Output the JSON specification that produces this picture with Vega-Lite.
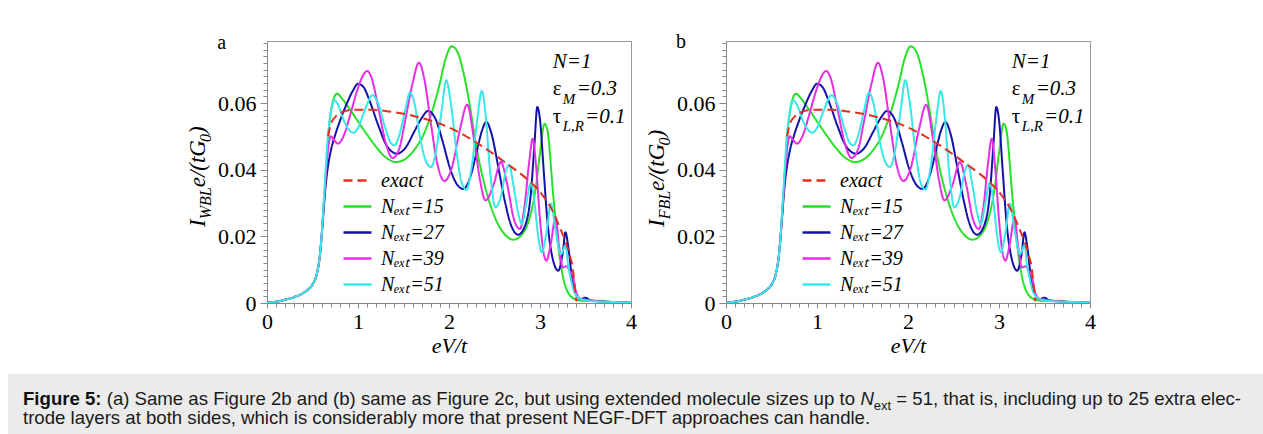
{
  "$schema": "https://vega.github.io/schema/vega-lite/v6.json",
  "padding": {"left": 8, "top": 31, "right": 0, "bottom": 0},
  "background": "white",
  "config": {
    "view": {"stroke": "#999", "strokeWidth": 1},
    "axis": {"grid": false, "domainColor": "#888", "tickColor": "#888", "labelFont": "Liberation Serif", "labelFontSize": 22, "labelColor": "black", "titleFont": "Liberation Serif", "titleFontSize": 22, "titleFontStyle": "italic", "titleFontWeight": "normal", "titleColor": "black", "labelOverlap": false, "labelFlush": false}
  },
  "datasets": {
    "curves": [
      {"s":"Nₑₓₜ=15","x":0,"y":0.0001},{"s":"Nₑₓₜ=15","x":0.1,"y":0.0004},{"s":"Nₑₓₜ=15","x":0.2,"y":0.001},{"s":"Nₑₓₜ=15","x":0.3,"y":0.0018},{"s":"Nₑₓₜ=15","x":0.4,"y":0.003},{"s":"Nₑₓₜ=15","x":0.45,"y":0.004},{"s":"Nₑₓₜ=15","x":0.5,"y":0.0055},{"s":"Nₑₓₜ=15","x":0.55,"y":0.009},{"s":"Nₑₓₜ=15","x":0.58,"y":0.014},{"s":"Nₑₓₜ=15","x":0.6,"y":0.02},{"s":"Nₑₓₜ=15","x":0.62,"y":0.028},{"s":"Nₑₓₜ=15","x":0.64,"y":0.036},
      {"s":"Nₑₓₜ=15","x":0.66,"y":0.044},{"s":"Nₑₓₜ=15","x":0.68,"y":0.052},{"s":"Nₑₓₜ=15","x":0.7,"y":0.057},{"s":"Nₑₓₜ=15","x":0.73,"y":0.061},{"s":"Nₑₓₜ=15","x":0.77,"y":0.0628},{"s":"Nₑₓₜ=15","x":0.82,"y":0.0615},{"s":"Nₑₓₜ=15","x":0.9,"y":0.0585},{"s":"Nₑₓₜ=15","x":1.0,"y":0.0545},{"s":"Nₑₓₜ=15","x":1.1,"y":0.0505},{"s":"Nₑₓₜ=15","x":1.2,"y":0.0468},{"s":"Nₑₓₜ=15","x":1.3,"y":0.0438},{"s":"Nₑₓₜ=15","x":1.42,"y":0.0423},{"s":"Nₑₓₜ=15","x":1.52,"y":0.0432},{"s":"Nₑₓₜ=15","x":1.62,"y":0.046},{"s":"Nₑₓₜ=15","x":1.72,"y":0.0505},{"s":"Nₑₓₜ=15","x":1.82,"y":0.058},{"s":"Nₑₓₜ=15","x":1.9,"y":0.066},{"s":"Nₑₓₜ=15","x":1.96,"y":0.073},{"s":"Nₑₓₜ=15","x":2.03,"y":0.077},{"s":"Nₑₓₜ=15","x":2.09,"y":0.0755},{"s":"Nₑₓₜ=15","x":2.16,"y":0.069},{"s":"Nₑₓₜ=15","x":2.23,"y":0.059},{"s":"Nₑₓₜ=15","x":2.3,"y":0.047},{"s":"Nₑₓₜ=15","x":2.4,"y":0.0345},{"s":"Nₑₓₜ=15","x":2.5,"y":0.026},{"s":"Nₑₓₜ=15","x":2.6,"y":0.021},{"s":"Nₑₓₜ=15","x":2.71,"y":0.019},{"s":"Nₑₓₜ=15","x":2.8,"y":0.0205},{"s":"Nₑₓₜ=15","x":2.88,"y":0.025},{"s":"Nₑₓₜ=15","x":2.95,"y":0.034},{"s":"Nₑₓₜ=15","x":3.0,"y":0.045},{"s":"Nₑₓₜ=15","x":3.05,"y":0.0538},{"s":"Nₑₓₜ=15","x":3.08,"y":0.052},{"s":"Nₑₓₜ=15","x":3.15,"y":0.031},{"s":"Nₑₓₜ=15","x":3.22,"y":0.013},{"s":"Nₑₓₜ=15","x":3.29,"y":0.0042},{"s":"Nₑₓₜ=15","x":3.38,"y":0.0012},{"s":"Nₑₓₜ=15","x":3.5,"y":0.0006},{"s":"Nₑₓₜ=15","x":3.65,"y":0.0007},{"s":"Nₑₓₜ=15","x":3.8,"y":0.0003},{"s":"Nₑₓₜ=15","x":4.0,"y":0.0001},

      {"s":"Nₑₓₜ=27","x":0,"y":0.0001},{"s":"Nₑₓₜ=27","x":0.1,"y":0.0004},{"s":"Nₑₓₜ=27","x":0.2,"y":0.001},{"s":"Nₑₓₜ=27","x":0.3,"y":0.0018},{"s":"Nₑₓₜ=27","x":0.4,"y":0.003},{"s":"Nₑₓₜ=27","x":0.45,"y":0.004},{"s":"Nₑₓₜ=27","x":0.5,"y":0.0055},{"s":"Nₑₓₜ=27","x":0.55,"y":0.009},{"s":"Nₑₓₜ=27","x":0.58,"y":0.014},{"s":"Nₑₓₜ=27","x":0.6,"y":0.02},{"s":"Nₑₓₜ=27","x":0.62,"y":0.027},{"s":"Nₑₓₜ=27","x":0.64,"y":0.034},
      {"s":"Nₑₓₜ=27","x":0.66,"y":0.039},{"s":"Nₑₓₜ=27","x":0.7,"y":0.0455},{"s":"Nₑₓₜ=27","x":0.75,"y":0.0505},{"s":"Nₑₓₜ=27","x":0.8,"y":0.0545},{"s":"Nₑₓₜ=27","x":0.88,"y":0.06},{"s":"Nₑₓₜ=27","x":0.95,"y":0.064},{"s":"Nₑₓₜ=27","x":1.0,"y":0.0658},{"s":"Nₑₓₜ=27","x":1.06,"y":0.0648},{"s":"Nₑₓₜ=27","x":1.13,"y":0.0605},{"s":"Nₑₓₜ=27","x":1.22,"y":0.0535},{"s":"Nₑₓₜ=27","x":1.32,"y":0.047},{"s":"Nₑₓₜ=27","x":1.43,"y":0.0448},{"s":"Nₑₓₜ=27","x":1.52,"y":0.0465},{"s":"Nₑₓₜ=27","x":1.62,"y":0.0515},{"s":"Nₑₓₜ=27","x":1.7,"y":0.0555},{"s":"Nₑₓₜ=27","x":1.77,"y":0.0576},{"s":"Nₑₓₜ=27","x":1.85,"y":0.0553},{"s":"Nₑₓₜ=27","x":1.93,"y":0.0485},{"s":"Nₑₓₜ=27","x":2.01,"y":0.0405},{"s":"Nₑₓₜ=27","x":2.09,"y":0.0355},{"s":"Nₑₓₜ=27","x":2.16,"y":0.0342},{"s":"Nₑₓₜ=27","x":2.23,"y":0.0375},{"s":"Nₑₓₜ=27","x":2.3,"y":0.0448},{"s":"Nₑₓₜ=27","x":2.36,"y":0.0515},{"s":"Nₑₓₜ=27","x":2.41,"y":0.0543},{"s":"Nₑₓₜ=27","x":2.47,"y":0.0505},{"s":"Nₑₓₜ=27","x":2.54,"y":0.041},{"s":"Nₑₓₜ=27","x":2.61,"y":0.031},{"s":"Nₑₓₜ=27","x":2.68,"y":0.0235},{"s":"Nₑₓₜ=27","x":2.76,"y":0.0205},{"s":"Nₑₓₜ=27","x":2.84,"y":0.0235},{"s":"Nₑₓₜ=27","x":2.9,"y":0.033},{"s":"Nₑₓₜ=27","x":2.94,"y":0.048},{"s":"Nₑₓₜ=27","x":2.97,"y":0.0588},{"s":"Nₑₓₜ=27","x":3.0,"y":0.055},{"s":"Nₑₓₜ=27","x":3.04,"y":0.04},{"s":"Nₑₓₜ=27","x":3.08,"y":0.025},{"s":"Nₑₓₜ=27","x":3.13,"y":0.0145},{"s":"Nₑₓₜ=27","x":3.2,"y":0.0097},{"s":"Nₑₓₜ=27","x":3.25,"y":0.015},{"s":"Nₑₓₜ=27","x":3.28,"y":0.0212},{"s":"Nₑₓₜ=27","x":3.31,"y":0.017},{"s":"Nₑₓₜ=27","x":3.35,"y":0.008},{"s":"Nₑₓₜ=27","x":3.4,"y":0.0025},{"s":"Nₑₓₜ=27","x":3.45,"y":0.0012},{"s":"Nₑₓₜ=27","x":3.5,"y":0.0016},{"s":"Nₑₓₜ=27","x":3.55,"y":0.0008},{"s":"Nₑₓₜ=27","x":3.7,"y":0.0004},{"s":"Nₑₓₜ=27","x":4.0,"y":0.0001},

      {"s":"Nₑₓₜ=39","x":0,"y":0.0001},{"s":"Nₑₓₜ=39","x":0.1,"y":0.0004},{"s":"Nₑₓₜ=39","x":0.2,"y":0.001},{"s":"Nₑₓₜ=39","x":0.3,"y":0.0018},{"s":"Nₑₓₜ=39","x":0.4,"y":0.003},{"s":"Nₑₓₜ=39","x":0.45,"y":0.004},{"s":"Nₑₓₜ=39","x":0.5,"y":0.0055},{"s":"Nₑₓₜ=39","x":0.55,"y":0.009},{"s":"Nₑₓₜ=39","x":0.58,"y":0.014},{"s":"Nₑₓₜ=39","x":0.6,"y":0.02},{"s":"Nₑₓₜ=39","x":0.62,"y":0.028},{"s":"Nₑₓₜ=39","x":0.64,"y":0.036},
      {"s":"Nₑₓₜ=39","x":0.66,"y":0.043},{"s":"Nₑₓₜ=39","x":0.68,"y":0.048},{"s":"Nₑₓₜ=39","x":0.7,"y":0.05},{"s":"Nₑₓₜ=39","x":0.74,"y":0.0488},{"s":"Nₑₓₜ=39","x":0.78,"y":0.0478},{"s":"Nₑₓₜ=39","x":0.84,"y":0.05},{"s":"Nₑₓₜ=39","x":0.92,"y":0.057},{"s":"Nₑₓₜ=39","x":1.0,"y":0.0645},{"s":"Nₑₓₜ=39","x":1.06,"y":0.0685},{"s":"Nₑₓₜ=39","x":1.1,"y":0.0696},{"s":"Nₑₓₜ=39","x":1.15,"y":0.0675},{"s":"Nₑₓₜ=39","x":1.22,"y":0.059},{"s":"Nₑₓₜ=39","x":1.3,"y":0.0485},{"s":"Nₑₓₜ=39","x":1.38,"y":0.0435},{"s":"Nₑₓₜ=39","x":1.45,"y":0.046},{"s":"Nₑₓₜ=39","x":1.52,"y":0.055},{"s":"Nₑₓₜ=39","x":1.6,"y":0.066},{"s":"Nₑₓₜ=39","x":1.67,"y":0.0721},{"s":"Nₑₓₜ=39","x":1.73,"y":0.067},{"s":"Nₑₓₜ=39","x":1.8,"y":0.054},{"s":"Nₑₓₜ=39","x":1.87,"y":0.042},{"s":"Nₑₓₜ=39","x":1.95,"y":0.0366},{"s":"Nₑₓₜ=39","x":2.03,"y":0.0405},{"s":"Nₑₓₜ=39","x":2.12,"y":0.052},{"s":"Nₑₓₜ=39","x":2.2,"y":0.0595},{"s":"Nₑₓₜ=39","x":2.27,"y":0.05},{"s":"Nₑₓₜ=39","x":2.34,"y":0.037},{"s":"Nₑₓₜ=39","x":2.4,"y":0.0308},{"s":"Nₑₓₜ=39","x":2.49,"y":0.0355},{"s":"Nₑₓₜ=39","x":2.57,"y":0.0423},{"s":"Nₑₓₜ=39","x":2.64,"y":0.0355},{"s":"Nₑₓₜ=39","x":2.71,"y":0.0255},{"s":"Nₑₓₜ=39","x":2.78,"y":0.0222},{"s":"Nₑₓₜ=39","x":2.83,"y":0.029},{"s":"Nₑₓₜ=39","x":2.88,"y":0.042},{"s":"Nₑₓₜ=39","x":2.92,"y":0.0493},{"s":"Nₑₓₜ=39","x":2.96,"y":0.04},{"s":"Nₑₓₜ=39","x":3.0,"y":0.025},{"s":"Nₑₓₜ=39","x":3.04,"y":0.015},{"s":"Nₑₓₜ=39","x":3.07,"y":0.0127},{"s":"Nₑₓₜ=39","x":3.12,"y":0.018},{"s":"Nₑₓₜ=39","x":3.17,"y":0.0257},{"s":"Nₑₓₜ=39","x":3.21,"y":0.017},{"s":"Nₑₓₜ=39","x":3.25,"y":0.0107},{"s":"Nₑₓₜ=39","x":3.29,"y":0.011},{"s":"Nₑₓₜ=39","x":3.33,"y":0.0095},{"s":"Nₑₓₜ=39","x":3.36,"y":0.008},{"s":"Nₑₓₜ=39","x":3.4,"y":0.003},{"s":"Nₑₓₜ=39","x":3.45,"y":0.0012},{"s":"Nₑₓₜ=39","x":3.55,"y":0.0008},{"s":"Nₑₓₜ=39","x":3.8,"y":0.0003},{"s":"Nₑₓₜ=39","x":4.0,"y":0.0001},

      {"s":"Nₑₓₜ=51","x":0,"y":0.0001},{"s":"Nₑₓₜ=51","x":0.1,"y":0.0004},{"s":"Nₑₓₜ=51","x":0.2,"y":0.001},{"s":"Nₑₓₜ=51","x":0.3,"y":0.0018},{"s":"Nₑₓₜ=51","x":0.4,"y":0.003},{"s":"Nₑₓₜ=51","x":0.45,"y":0.004},{"s":"Nₑₓₜ=51","x":0.5,"y":0.0055},{"s":"Nₑₓₜ=51","x":0.55,"y":0.009},{"s":"Nₑₓₜ=51","x":0.58,"y":0.014},{"s":"Nₑₓₜ=51","x":0.6,"y":0.02},{"s":"Nₑₓₜ=51","x":0.62,"y":0.029},{"s":"Nₑₓₜ=51","x":0.64,"y":0.038},
      {"s":"Nₑₓₜ=51","x":0.66,"y":0.047},{"s":"Nₑₓₜ=51","x":0.68,"y":0.053},{"s":"Nₑₓₜ=51","x":0.71,"y":0.0585},{"s":"Nₑₓₜ=51","x":0.74,"y":0.0608},{"s":"Nₑₓₜ=51","x":0.78,"y":0.0595},{"s":"Nₑₓₜ=51","x":0.84,"y":0.055},{"s":"Nₑₓₜ=51","x":0.9,"y":0.052},{"s":"Nₑₓₜ=51","x":0.95,"y":0.0511},{"s":"Nₑₓₜ=51","x":1.0,"y":0.0525},{"s":"Nₑₓₜ=51","x":1.07,"y":0.0575},{"s":"Nₑₓₜ=51","x":1.16,"y":0.0623},{"s":"Nₑₓₜ=51","x":1.22,"y":0.06},{"s":"Nₑₓₜ=51","x":1.3,"y":0.0525},{"s":"Nₑₓₜ=51","x":1.36,"y":0.048},{"s":"Nₑₓₜ=51","x":1.4,"y":0.0473},{"s":"Nₑₓₜ=51","x":1.45,"y":0.05},{"s":"Nₑₓₜ=51","x":1.52,"y":0.058},{"s":"Nₑₓₜ=51","x":1.57,"y":0.0631},{"s":"Nₑₓₜ=51","x":1.62,"y":0.06},{"s":"Nₑₓₜ=51","x":1.68,"y":0.05},{"s":"Nₑₓₜ=51","x":1.74,"y":0.043},{"s":"Nₑₓₜ=51","x":1.8,"y":0.0408},{"s":"Nₑₓₜ=51","x":1.86,"y":0.046},{"s":"Nₑₓₜ=51","x":1.92,"y":0.058},{"s":"Nₑₓₜ=51","x":1.97,"y":0.0668},{"s":"Nₑₓₜ=51","x":2.02,"y":0.06},{"s":"Nₑₓₜ=51","x":2.08,"y":0.046},{"s":"Nₑₓₜ=51","x":2.14,"y":0.036},{"s":"Nₑₓₜ=51","x":2.19,"y":0.034},{"s":"Nₑₓₜ=51","x":2.25,"y":0.041},{"s":"Nₑₓₜ=51","x":2.31,"y":0.055},{"s":"Nₑₓₜ=51","x":2.36,"y":0.0636},{"s":"Nₑₓₜ=51","x":2.4,"y":0.057},{"s":"Nₑₓₜ=51","x":2.45,"y":0.04},{"s":"Nₑₓₜ=51","x":2.51,"y":0.0287},{"s":"Nₑₓₜ=51","x":2.57,"y":0.032},{"s":"Nₑₓₜ=51","x":2.62,"y":0.039},{"s":"Nₑₓₜ=51","x":2.66,"y":0.0415},{"s":"Nₑₓₜ=51","x":2.71,"y":0.035},{"s":"Nₑₓₜ=51","x":2.76,"y":0.027},{"s":"Nₑₓₜ=51","x":2.8,"y":0.0237},{"s":"Nₑₓₜ=51","x":2.85,"y":0.03},{"s":"Nₑₓₜ=51","x":2.9,"y":0.0361},{"s":"Nₑₓₜ=51","x":2.94,"y":0.03},{"s":"Nₑₓₜ=51","x":2.98,"y":0.02},{"s":"Nₑₓₜ=51","x":3.02,"y":0.0152},{"s":"Nₑₓₜ=51","x":3.07,"y":0.021},{"s":"Nₑₓₜ=51","x":3.12,"y":0.0298},{"s":"Nₑₓₜ=51","x":3.17,"y":0.022},{"s":"Nₑₓₜ=51","x":3.23,"y":0.0147},{"s":"Nₑₓₜ=51","x":3.28,"y":0.0172},{"s":"Nₑₓₜ=51","x":3.31,"y":0.011},{"s":"Nₑₓₜ=51","x":3.34,"y":0.007},{"s":"Nₑₓₜ=51","x":3.38,"y":0.003},{"s":"Nₑₓₜ=51","x":3.45,"y":0.0012},{"s":"Nₑₓₜ=51","x":3.55,"y":0.0006},{"s":"Nₑₓₜ=51","x":3.8,"y":0.0003},{"s":"Nₑₓₜ=51","x":4.0,"y":0.0001},

      {"s":"exact","x":0.67,"y":0.05},{"s":"exact","x":0.7,"y":0.0535},{"s":"exact","x":0.75,"y":0.0558},{"s":"exact","x":0.82,"y":0.0572},{"s":"exact","x":0.9,"y":0.0578},{"s":"exact","x":1.0,"y":0.058},{"s":"exact","x":1.15,"y":0.058},{"s":"exact","x":1.3,"y":0.0576},{"s":"exact","x":1.45,"y":0.057},{"s":"exact","x":1.6,"y":0.0562},{"s":"exact","x":1.75,"y":0.0551},{"s":"exact","x":1.9,"y":0.0538},{"s":"exact","x":2.05,"y":0.052},{"s":"exact","x":2.2,"y":0.0498},{"s":"exact","x":2.35,"y":0.0473},{"s":"exact","x":2.5,"y":0.0445},{"s":"exact","x":2.65,"y":0.0415},{"s":"exact","x":2.8,"y":0.0385},{"s":"exact","x":2.95,"y":0.0348},{"s":"exact","x":3.05,"y":0.0315},{"s":"exact","x":3.15,"y":0.027},{"s":"exact","x":3.22,"y":0.0225},{"s":"exact","x":3.28,"y":0.0185},{"s":"exact","x":3.33,"y":0.014},{"s":"exact","x":3.36,"y":0.0105},{"s":"exact","x":3.385,"y":0.004},{"s":"exact","x":3.4,"y":0.0005}
    ],
    "notes": [
      {"k":"m","t":"N=1","x":3.14,"y":0.0705},
      {"k":"g","t":"ε","x":3.14,"y":0.0623},
      {"k":"s","t":"M","x":3.249,"y":0.0598},
      {"k":"m","t":"=0.3","x":3.403,"y":0.0623},
      {"k":"g","t":"τ","x":3.14,"y":0.0541},
      {"k":"s","t":"L,R","x":3.249,"y":0.0516},
      {"k":"m","t":"=0.1","x":3.495,"y":0.0541}
    ],
    "ylab": [
      {"p":"a","k":"m","t":"I","x":-0.681,"y":0.0228},
      {"p":"a","k":"s","t":"WBL","x":-0.612,"y":0.0251},
      {"p":"a","k":"m","t":"e/(tG","x":-0.681,"y":0.0347},
      {"p":"a","k":"s","t":"0","x":-0.612,"y":0.0483},
      {"p":"a","k":"m","t":")","x":-0.681,"y":0.0507},
      {"p":"a","k":"l","t":"a","x":-0.546,"y":0.0763},
      {"p":"b","k":"m","t":"I","x":-0.681,"y":0.0228},
      {"p":"b","k":"s","t":"FBL","x":-0.612,"y":0.0251},
      {"p":"b","k":"m","t":"e/(tG","x":-0.681,"y":0.0336},
      {"p":"b","k":"s","t":"0","x":-0.612,"y":0.04725},
      {"p":"b","k":"m","t":")","x":-0.681,"y":0.04966},
      {"p":"b","k":"l","t":"b","x":-0.549,"y":0.0765}
    ]
  },
  "spacing": 17,
  "vconcat": [
    {
      "hconcat": [
        {"width": 164, "height": 262, "view": {"stroke": null}, "data": {"values": [{}]}, "mark": {"type": "text", "text": ""}, "encoding": {}},
        {
          "width": 364, "height": 262,
          "resolve": {"axis": {"x": "independent", "y": "independent"}},
          "layer": [
            {"data": {"name": "curves"},
             "mark": {"type": "line", "strokeWidth": 2, "interpolate": "monotone", "clip": true},
             "encoding": {
               "x": {"field": "x", "type": "quantitative", "title": "eV/t", "scale": {"domain": [0, 4], "nice": false, "zero": false},
                 "axis": {"orient": "bottom", "values": [0,1,2,3,4], "format": "d", "tickSize": 5, "labelPadding": 3, "titlePadding": 3}},
               "y": {"field": "y", "type": "quantitative", "title": null, "scale": {"domain": [0, 0.0786], "nice": false},
                 "axis": {"orient": "left", "values": [0,0.02,0.04,0.06], "labelExpr": "datum.value === 0 ? '0' : format(datum.value, '.2f')", "tickSize": 7, "labelPadding": 4}},
               "color": {"field": "s", "type": "nominal",
                 "scale": {"domain": ["exact","Nₑₓₜ=15","Nₑₓₜ=27","Nₑₓₜ=39","Nₑₓₜ=51"], "range": ["#e62e1e","#29e029","#1212a8","#e62ee6","#38e8e8"]},
                 "legend": {"orient": "none", "legendX": 75, "legendY": 124, "title": null, "symbolType": "stroke", "symbolSize": 784, "symbolStrokeWidth": 2.5, "labelFont": "Liberation Serif", "labelFontSize": 20, "labelFontStyle": "italic", "labelColor": "black", "rowPadding": -5, "labelOffset": 8, "padding": 0, "labelLimit": 300}},
               "strokeDash": {"field": "s", "type": "nominal",
                 "scale": {"domain": ["exact","Nₑₓₜ=15","Nₑₓₜ=27","Nₑₓₜ=39","Nₑₓₜ=51"], "range": [[9,5],[1,0],[1,0],[1,0],[1,0]]},
                 "legend": {"orient": "none", "legendX": 75, "legendY": 124, "title": null, "symbolType": "stroke", "symbolSize": 784, "symbolStrokeWidth": 2.5, "labelFont": "Liberation Serif", "labelFontSize": 20, "labelFontStyle": "italic", "labelColor": "black", "rowPadding": -5, "labelOffset": 8, "padding": 0, "labelLimit": 300}}
             }},
            {"data": {"name": "notes"}, "transform": [{"filter": "datum.k === 'm'"}],
             "mark": {"type": "text", "font": "Liberation Serif", "fontSize": 21, "fontStyle": "italic", "align": "left", "baseline": "alphabetic", "color": "black"},
             "encoding": {
               "x": {"field": "x", "type": "quantitative", "axis": {"orient": "bottom", "values": [0,0.1,0.2,0.3,0.4,0.5,0.6,0.7,0.8,0.9,1,1.1,1.2,1.3,1.4,1.5,1.6,1.7,1.8,1.9,2,2.1,2.2,2.3,2.4,2.5,2.6,2.7,2.8,2.9,3,3.1,3.2,3.3,3.4,3.5,3.6,3.7,3.8,3.9,4], "tickSize": 4, "labels": false, "domain": false, "title": null}},
               "y": {"field": "y", "type": "quantitative", "axis": {"orient": "left", "values": [0,0.002,0.004,0.006,0.008,0.01,0.012,0.014,0.016,0.018,0.02,0.022,0.024,0.026,0.028,0.03,0.032,0.034,0.036,0.038,0.04,0.042,0.044,0.046,0.048,0.05,0.052,0.054,0.056,0.058,0.06,0.062,0.064,0.066,0.068,0.07,0.072,0.074,0.076,0.078], "tickSize": 4, "labels": false, "domain": false, "title": null}},
               "text": {"field": "t"}}},
            {"data": {"name": "notes"}, "transform": [{"filter": "datum.k === 'g'"}],
             "mark": {"type": "text", "font": "Liberation Serif", "fontSize": 21, "align": "left", "baseline": "alphabetic", "color": "black"},
             "encoding": {"x": {"field": "x", "type": "quantitative", "axis": null}, "y": {"field": "y", "type": "quantitative", "axis": null}, "text": {"field": "t"}}},
            {"data": {"name": "notes"}, "transform": [{"filter": "datum.k === 's'"}],
             "mark": {"type": "text", "font": "Liberation Serif", "fontSize": 15, "fontStyle": "italic", "align": "left", "baseline": "alphabetic", "color": "black"},
             "encoding": {"x": {"field": "x", "type": "quantitative", "axis": null}, "y": {"field": "y", "type": "quantitative", "axis": null}, "text": {"field": "t"}}},
            {"data": {"name": "ylab"}, "transform": [{"filter": "datum.p === 'a' && datum.k === 'm'"}],
             "mark": {"type": "text", "font": "Liberation Serif", "fontSize": 23, "fontStyle": "italic", "align": "left", "baseline": "alphabetic", "angle": 270, "color": "black"},
             "encoding": {"x": {"field": "x", "type": "quantitative", "axis": null}, "y": {"field": "y", "type": "quantitative", "axis": null}, "text": {"field": "t"}}},
            {"data": {"name": "ylab"}, "transform": [{"filter": "datum.p === 'a' && datum.k === 's'"}],
             "mark": {"type": "text", "font": "Liberation Serif", "fontSize": 16, "fontStyle": "italic", "align": "left", "baseline": "alphabetic", "angle": 270, "color": "black"},
             "encoding": {"x": {"field": "x", "type": "quantitative", "axis": null}, "y": {"field": "y", "type": "quantitative", "axis": null}, "text": {"field": "t"}}},
            {"data": {"name": "ylab"}, "transform": [{"filter": "datum.p === 'a' && datum.k === 'l'"}],
             "mark": {"type": "text", "font": "Liberation Serif", "fontSize": 20, "align": "left", "baseline": "alphabetic", "color": "black"},
             "encoding": {"x": {"field": "x", "type": "quantitative", "axis": null}, "y": {"field": "y", "type": "quantitative", "axis": null}, "text": {"field": "t"}}}
          ]
        },
        {
          "width": 364, "height": 262,
          "resolve": {"axis": {"x": "independent", "y": "independent"}},
          "layer": [
            {"data": {"name": "curves"},
             "mark": {"type": "line", "strokeWidth": 2, "interpolate": "monotone", "clip": true},
             "encoding": {
               "x": {"field": "x", "type": "quantitative", "title": "eV/t", "scale": {"domain": [0, 4], "nice": false, "zero": false},
                 "axis": {"orient": "bottom", "values": [0,1,2,3,4], "format": "d", "tickSize": 5, "labelPadding": 3, "titlePadding": 3}},
               "y": {"field": "y", "type": "quantitative", "title": null, "scale": {"domain": [0, 0.0786], "nice": false},
                 "axis": {"orient": "left", "values": [0,0.02,0.04,0.06], "labelExpr": "datum.value === 0 ? '0' : format(datum.value, '.2f')", "tickSize": 7, "labelPadding": 4}},
               "color": {"field": "s", "type": "nominal",
                 "scale": {"domain": ["exact","Nₑₓₜ=15","Nₑₓₜ=27","Nₑₓₜ=39","Nₑₓₜ=51"], "range": ["#e62e1e","#29e029","#1212a8","#e62ee6","#38e8e8"]},
                 "legend": {"orient": "none", "legendX": 75, "legendY": 124, "title": null, "symbolType": "stroke", "symbolSize": 784, "symbolStrokeWidth": 2.5, "labelFont": "Liberation Serif", "labelFontSize": 20, "labelFontStyle": "italic", "labelColor": "black", "rowPadding": -5, "labelOffset": 8, "padding": 0, "labelLimit": 300}},
               "strokeDash": {"field": "s", "type": "nominal",
                 "scale": {"domain": ["exact","Nₑₓₜ=15","Nₑₓₜ=27","Nₑₓₜ=39","Nₑₓₜ=51"], "range": [[9,5],[1,0],[1,0],[1,0],[1,0]]},
                 "legend": {"orient": "none", "legendX": 75, "legendY": 124, "title": null, "symbolType": "stroke", "symbolSize": 784, "symbolStrokeWidth": 2.5, "labelFont": "Liberation Serif", "labelFontSize": 20, "labelFontStyle": "italic", "labelColor": "black", "rowPadding": -5, "labelOffset": 8, "padding": 0, "labelLimit": 300}}
             }},
            {"data": {"name": "notes"}, "transform": [{"filter": "datum.k === 'm'"}],
             "mark": {"type": "text", "font": "Liberation Serif", "fontSize": 21, "fontStyle": "italic", "align": "left", "baseline": "alphabetic", "color": "black"},
             "encoding": {
               "x": {"field": "x", "type": "quantitative", "axis": {"orient": "bottom", "values": [0,0.1,0.2,0.3,0.4,0.5,0.6,0.7,0.8,0.9,1,1.1,1.2,1.3,1.4,1.5,1.6,1.7,1.8,1.9,2,2.1,2.2,2.3,2.4,2.5,2.6,2.7,2.8,2.9,3,3.1,3.2,3.3,3.4,3.5,3.6,3.7,3.8,3.9,4], "tickSize": 4, "labels": false, "domain": false, "title": null}},
               "y": {"field": "y", "type": "quantitative", "axis": {"orient": "left", "values": [0,0.002,0.004,0.006,0.008,0.01,0.012,0.014,0.016,0.018,0.02,0.022,0.024,0.026,0.028,0.03,0.032,0.034,0.036,0.038,0.04,0.042,0.044,0.046,0.048,0.05,0.052,0.054,0.056,0.058,0.06,0.062,0.064,0.066,0.068,0.07,0.072,0.074,0.076,0.078], "tickSize": 4, "labels": false, "domain": false, "title": null}},
               "text": {"field": "t"}}},
            {"data": {"name": "notes"}, "transform": [{"filter": "datum.k === 'g'"}],
             "mark": {"type": "text", "font": "Liberation Serif", "fontSize": 21, "align": "left", "baseline": "alphabetic", "color": "black"},
             "encoding": {"x": {"field": "x", "type": "quantitative", "axis": null}, "y": {"field": "y", "type": "quantitative", "axis": null}, "text": {"field": "t"}}},
            {"data": {"name": "notes"}, "transform": [{"filter": "datum.k === 's'"}],
             "mark": {"type": "text", "font": "Liberation Serif", "fontSize": 15, "fontStyle": "italic", "align": "left", "baseline": "alphabetic", "color": "black"},
             "encoding": {"x": {"field": "x", "type": "quantitative", "axis": null}, "y": {"field": "y", "type": "quantitative", "axis": null}, "text": {"field": "t"}}},
            {"data": {"name": "ylab"}, "transform": [{"filter": "datum.p === 'b' && datum.k === 'm'"}],
             "mark": {"type": "text", "font": "Liberation Serif", "fontSize": 23, "fontStyle": "italic", "align": "left", "baseline": "alphabetic", "angle": 270, "color": "black"},
             "encoding": {"x": {"field": "x", "type": "quantitative", "axis": null}, "y": {"field": "y", "type": "quantitative", "axis": null}, "text": {"field": "t"}}},
            {"data": {"name": "ylab"}, "transform": [{"filter": "datum.p === 'b' && datum.k === 's'"}],
             "mark": {"type": "text", "font": "Liberation Serif", "fontSize": 16, "fontStyle": "italic", "align": "left", "baseline": "alphabetic", "angle": 270, "color": "black"},
             "encoding": {"x": {"field": "x", "type": "quantitative", "axis": null}, "y": {"field": "y", "type": "quantitative", "axis": null}, "text": {"field": "t"}}},
            {"data": {"name": "ylab"}, "transform": [{"filter": "datum.p === 'b' && datum.k === 'l'"}],
             "mark": {"type": "text", "font": "Liberation Serif", "fontSize": 20, "align": "left", "baseline": "alphabetic", "color": "black"},
             "encoding": {"x": {"field": "x", "type": "quantitative", "axis": null}, "y": {"field": "y", "type": "quantitative", "axis": null}, "text": {"field": "t"}}}
          ]
        }
      ],
      "spacing": 95,
      "bounds": "flush",
      "resolve": {"scale": {"x": "independent", "y": "independent", "color": "independent", "strokeDash": "independent"}, "legend": {"color": "independent", "strokeDash": "independent"}}
    },
    {
      "width": 1255, "height": 61,
      "view": {"fill": "#ebebeb", "stroke": null},
      "data": {"values": [
        {"k":"b","t":"Figure 5:"},
        {"k":"r1","t":"(a) Same as Figure 2b and (b) same as Figure 2c, but using extended molecule sizes up to"},
        {"k":"n","t":"N"},
        {"k":"e","t":"ext"},
        {"k":"r2","t":"= 51, that is, including up to 25 extra elec-"},
        {"k":"l2","t":"trode layers at both sides, which is considerably more that present NEGF-DFT approaches can handle."}
      ]},
      "layer": [
        {"transform": [{"filter": "datum.k === 'b'"}], "mark": {"type": "text", "font": "Liberation Sans", "fontSize": 18.6, "fontWeight": "bold", "align": "left", "baseline": "alphabetic", "color": "#111"}, "encoding": {"x": {"value": 15}, "y": {"value": 31}, "text": {"field": "t"}}},
        {"transform": [{"filter": "datum.k === 'r1'"}], "mark": {"type": "text", "font": "Liberation Sans", "fontSize": 18.6, "align": "left", "baseline": "alphabetic", "color": "#1a1a1a"}, "encoding": {"x": {"value": 98.7}, "y": {"value": 31}, "text": {"field": "t"}}},
        {"transform": [{"filter": "datum.k === 'n'"}], "mark": {"type": "text", "font": "Liberation Sans", "fontSize": 18.6, "fontStyle": "italic", "align": "left", "baseline": "alphabetic", "color": "#1a1a1a"}, "encoding": {"x": {"value": 852.4}, "y": {"value": 31}, "text": {"field": "t"}}},
        {"transform": [{"filter": "datum.k === 'e'"}], "mark": {"type": "text", "font": "Liberation Sans", "fontSize": 13, "align": "left", "baseline": "alphabetic", "color": "#1a1a1a"}, "encoding": {"x": {"value": 865.8}, "y": {"value": 36}, "text": {"field": "t"}}},
        {"transform": [{"filter": "datum.k === 'r2'"}], "mark": {"type": "text", "font": "Liberation Sans", "fontSize": 18.6, "align": "left", "baseline": "alphabetic", "color": "#1a1a1a"}, "encoding": {"x": {"value": 888.3}, "y": {"value": 31}, "text": {"field": "t"}}},
        {"transform": [{"filter": "datum.k === 'l2'"}], "mark": {"type": "text", "font": "Liberation Sans", "fontSize": 18.6, "align": "left", "baseline": "alphabetic", "color": "#1a1a1a"}, "encoding": {"x": {"value": 15}, "y": {"value": 50}, "text": {"field": "t"}}}
      ]
    }
  ]
}
